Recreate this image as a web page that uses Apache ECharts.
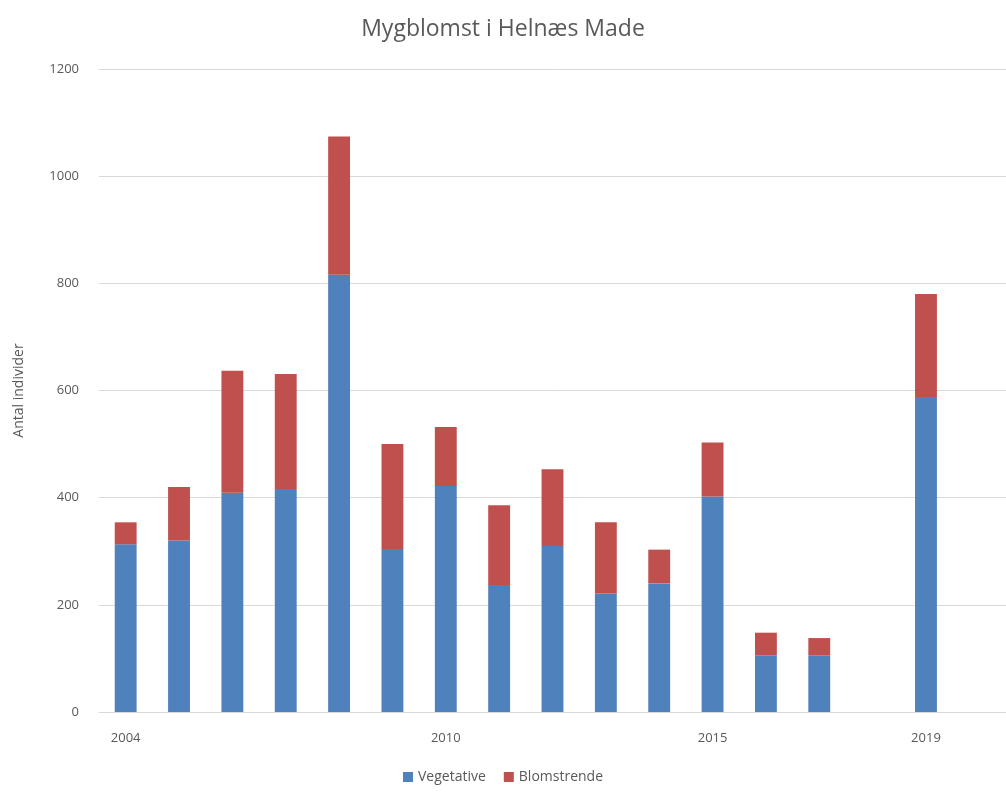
<!DOCTYPE html>
<html>
<head>
<meta charset="utf-8">
<script src="https://cdn.jsdelivr.net/npm/echarts@6/dist/echarts.min.js"></script>
<style>html,body{margin:0;padding:0;background:#fff}#c{width:1006px;height:793px}</style>
</head>
<body>
<div id="c"></div>
<script>
const years = ['2004','2005','2006','2007','2008','2009','2010','2011','2012','2013','2014','2015','2016','2017','2018','2019','2020'];
const shownYears = ['2004','2010','2015','2019'];
const vegetative = [313, 320, 409, 416, 816, 304, 422, 237, 310, 221, 240, 402, 106, 106, null, 588, null];
const blomstrende = [41, 100, 228, 215, 258, 196, 110, 149, 143, 133, 63, 101, 42, 32, null, 192, null];
const yTicks = [0, 200, 400, 600, 800, 1000, 1200];

const chart = echarts.init(document.getElementById('c'));
const font = '"Open Sans", "Noto Sans", sans-serif';
chart.setOption({
  animation: false,
  title: {
    text: 'Mygblomst i Helnæs Made',
    left: 'center', top: 13,
    textStyle: {fontFamily: font, fontSize: 23, fontWeight: 'normal', color: '#595959'}
  },
  legend: {
    bottom: 4, left: 'center',
    itemWidth: 10, itemHeight: 10, itemGap: 18,
    icon: 'rect',
    textStyle: {fontFamily: font, fontSize: 14, color: '#595959'}
  },
  grid: {left: 99, top: 69, width: 910, height: 643, containLabel: false},
  xAxis: {
    type: 'category',
    data: years,
    axisTick: {show: false},
    axisLine: {show: true, lineStyle: {color: '#d9d9d9'}},
    axisLabel: {
      interval: 0,
      formatter: v => shownYears.includes(v) ? v : '',
      fontFamily: font, fontSize: 13, color: '#595959', margin: 20
    }
  },
  yAxis: {
    type: 'value',
    min: yTicks[0], max: yTicks[yTicks.length - 1], interval: 200,
    name: 'Antal individer',
    nameLocation: 'middle', nameGap: 73,
    nameTextStyle: {fontFamily: font, fontSize: 14, color: '#595959'},
    axisLine: {show: false}, axisTick: {show: false},
    axisLabel: {fontFamily: font, fontSize: 13, color: '#595959', margin: 20, formatter: v => String(v)},
    splitLine: {lineStyle: {color: '#d9d9d9'}}
  },
  series: [
    {name: 'Vegetative', type: 'bar', stack: 's', data: vegetative, barWidth: '41%', itemStyle: {color: '#4F81BD'}},
    {name: 'Blomstrende', type: 'bar', stack: 's', data: blomstrende, barWidth: '41%', itemStyle: {color: '#C0504D'}}
  ]
});
</script>
</body>
</html>
